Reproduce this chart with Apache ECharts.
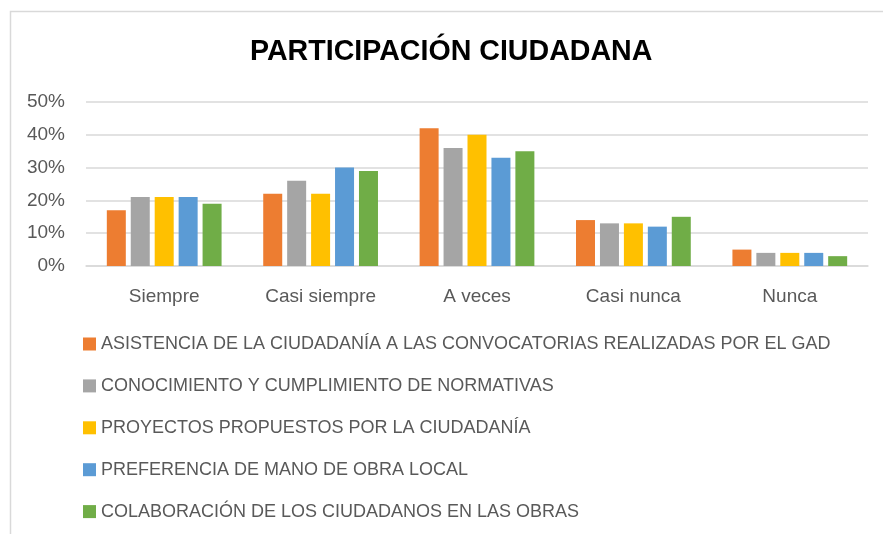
<!DOCTYPE html>
<html>
<head>
<meta charset="utf-8">
<script src="https://cdn.jsdelivr.net/npm/echarts@6/dist/echarts.min.js"></script>
<style>
html, body { margin: 0; padding: 0; background: #fff; }
#chart { width: 883px; height: 534px; }
</style>
</head>
<body>
<div id="chart"></div>
<script>
// categories and series (values in %)
const categories = ['Siempre', 'Casi siempre', 'A veces', 'Casi nunca', 'Nunca'];
const seriesNames = [
    'ASISTENCIA DE LA CIUDADANÍA A LAS CONVOCATORIAS REALIZADAS POR EL GAD',
    'CONOCIMIENTO Y CUMPLIMIENTO DE NORMATIVAS',
    'PROYECTOS PROPUESTOS POR LA CIUDADANÍA',
    'PREFERENCIA DE MANO DE OBRA LOCAL',
    'COLABORACIÓN DE LOS CIUDADANOS EN LAS OBRAS'
];
const asistencia = [17, 22, 42, 14, 5];
const conocimiento = [21, 26, 36, 13, 4];
const proyectos = [21, 22, 40, 13, 4];
const preferencia = [21, 30, 33, 12, 4];
const colaboracion = [19, 29, 35, 15, 3];
const colors = ['#ED7D31', '#A5A5A5', '#FFC000', '#5B9BD5', '#70AD47'];

const allValues = [asistencia, conocimiento, proyectos, preferencia, colaboracion];
const font = 'Liberation Sans, sans-serif';

const myChart = echarts.init(document.getElementById('chart'));
myChart.setOption({
    animation: false,
    color: colors,
    title: {
        text: 'PARTICIPACIÓN CIUDADANA',
        left: 245,
        top: 33,
        textStyle: {
            fontFamily: font,
            fontWeight: 'bold',
            fontSize: 28.6,
            color: '#000'
        }
    },
    graphic: [{
        type: 'rect',
        shape: { x: 10.5, y: 11.5, width: 900, height: 600 },
        style: { fill: 'none', stroke: '#d9d9d9', lineWidth: 1.5 },
        silent: true
    }],
    legend: {
        orient: 'vertical',
        left: 83,
        top: 335,
        padding: 0,
        itemGap: 23.9,
        itemWidth: 13,
        itemHeight: 13,
        icon: 'rect',
        textStyle: {
            fontFamily: font,
            fontSize: 18,
            color: '#595959'
        },
        data: seriesNames
    },
    grid: {
        left: 86,
        right: 15,
        top: 102,
        height: 164
    },
    xAxis: {
        type: 'category',
        data: categories,
        axisTick: { show: false },
        axisLine: { lineStyle: { color: '#d9d9d9', width: 1.5 } },
        axisLabel: {
            margin: 21,
            fontFamily: font,
            fontSize: 19,
            color: '#595959'
        }
    },
    yAxis: {
        type: 'value',
        min: 0,
        max: 50,
        interval: 10,
        axisLabel: {
            formatter: '{value}%',
            margin: 21,
            fontFamily: font,
            fontSize: 19,
            color: '#595959'
        },
        axisLine: { show: false },
        axisTick: { show: false },
        splitLine: { lineStyle: { color: '#d9d9d9', width: 1.5 } }
    },
    series: allValues.map((vals, i) => ({
        name: seriesNames[i],
        type: 'bar',
        data: vals,
        barWidth: 19,
        barGap: '26%',
        itemStyle: { color: colors[i] }
    }))
});
</script>
</body>
</html>
